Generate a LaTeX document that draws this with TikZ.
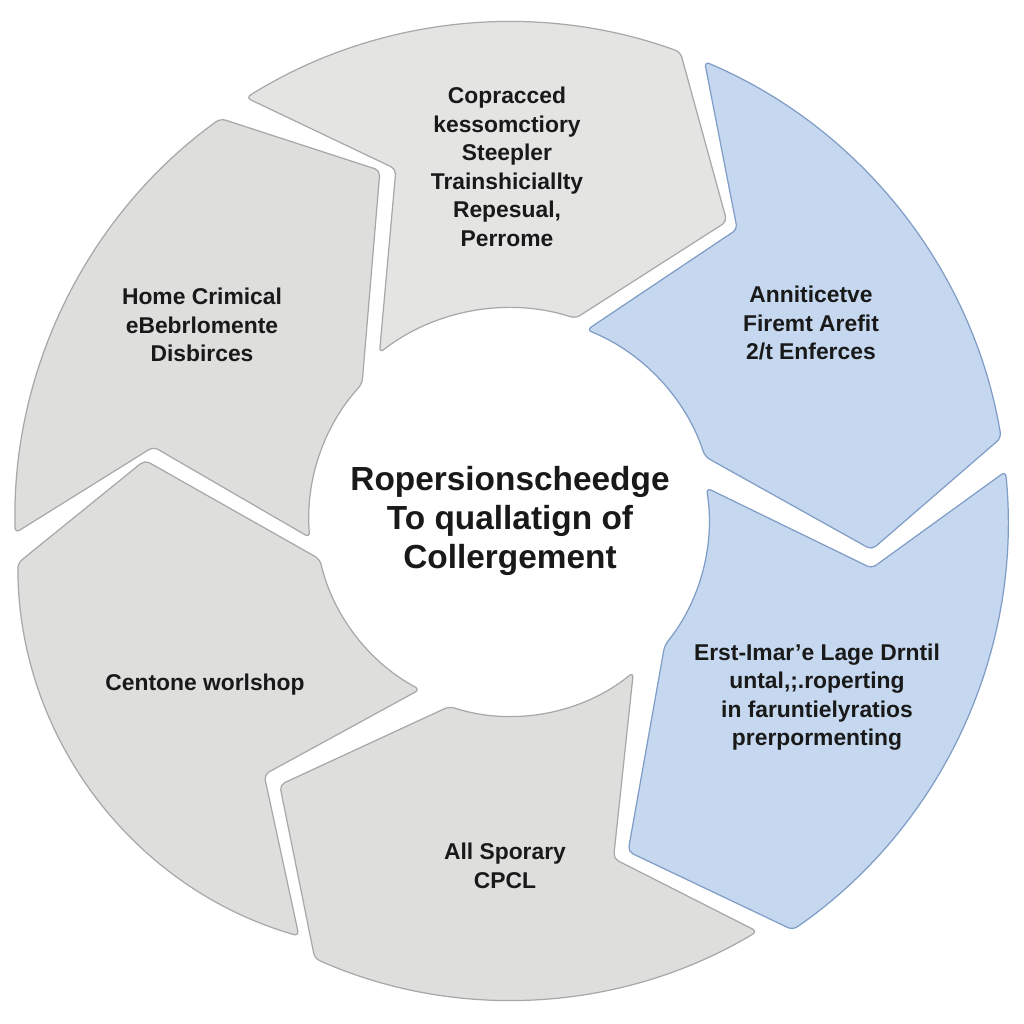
\documentclass[tikz,border=0pt]{standalone}
\usepackage{fontspec}
\setmainfont{Liberation Sans}
\definecolor{segGray}{HTML}{DEDEDD}
\definecolor{segGrayLight}{HTML}{E4E5E3}
\definecolor{segGrayLine}{HTML}{A8A8A8}
\definecolor{segBlue}{HTML}{C6D8EF}
\definecolor{segBlueLine}{HTML}{7F9DC6}
\begin{document}
\begin{tikzpicture}[x=0.2mm,y=0.2mm,
  grayseg/.style={draw=segGrayLine,fill=segGray,line width=0.7pt,rounded corners=3pt},
  blueseg/.style={draw=segBlueLine,fill=segBlue,line width=0.7pt,rounded corners=3pt},
  lbl/.style={font=\bfseries\fontsize{13}{16.2}\selectfont,align=center,text=black!90},
  hub/.style={font=\bfseries\fontsize{19}{22.1}\selectfont,align=center,text=black!90}]
\useasboundingbox (0,0) rectangle (1024,1024);
\fill[white] (0,0) rectangle (1024,1024);
\def\R{498};
\def\r{205};
\begin{scope}[shift={(510,504)}]
\filldraw[grayseg,fill=segGrayLight] (122:\R) arc[start angle=122,end angle=70,radius=\R] -- (54:369) -- (72:212) arc[start angle=72,end angle=128,radius=212] -- (108:369) -- cycle;
\filldraw[blueseg] (67:\R) arc[start angle=67,end angle=9.5,radius=\R] -- (-4.7:363) -- (18:\r) arc[start angle=18,end angle=68,radius=\r] -- (52:369) -- cycle;
\filldraw[blueseg] (5.6:\R) arc[start angle=5.6,end angle=-55.4,radius=\R] -- (-70.4:352) -- (-39:199) arc[start angle=-39,end angle=9.3,radius=199] -- (-7.6:365) -- cycle;
\filldraw[grayseg] (229:351) -- (252:196) arc[start angle=252,end angle=309,radius=196] -- (287:354) -- (301:480) arc[start angle=301,end angle=246,radius=480] -- cycle;
\filldraw[grayseg] (170.7:370) -- (185:494) arc[start angle=180,end angle=254,radius=388] -- (226:354) -- (242:192) arc[start angle=242,end angle=193,radius=198] -- cycle;
\filldraw[grayseg] (125.8:495) arc[start angle=125.8,end angle=181.5,radius=495] -- (168.4:364) -- (185:201) arc[start angle=185,end angle=137.4,radius=201] -- (110.4:373) -- cycle;
\end{scope}
\node[hub] (hub) at (510,503) {Ropersionscheedge\\To quallatign of\\Collergement};
\node[lbl] (topseg) at (507,857) {Copracced\\kessomctiory\\Steepler\\Trainshiciallty\\Repesual,\\Perrome};
\node[lbl] (upright) at (811,701) {Anniticetve\\Firemt Arefit\\2/t Enferces};
\node[lbl] (lowright) at (817,327) {Erst-Imar'e Lage Drntil\\untal,;.roperting\\in faruntielyratios\\prerpormenting};
\node[lbl] (bottom) at (505,158) {All Sporary\\CPCL};
\node[lbl] (lowleft) at (205,339) {Centone worlshop};
\node[lbl] (upleft) at (202,699) {Home Crimical\\eBebrlomente\\Disbirces};
\end{tikzpicture}
\end{document}
